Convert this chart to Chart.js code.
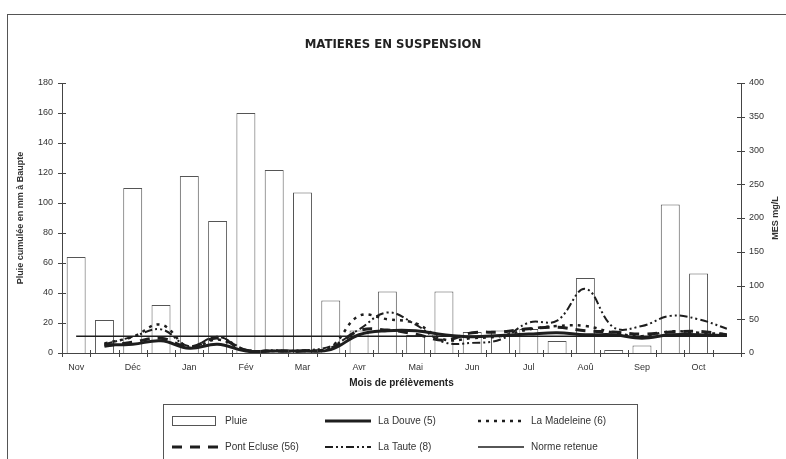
<!DOCTYPE html>
<html>
<head>
<meta charset="utf-8">
<script src="https://cdn.jsdelivr.net/npm/chart.js@4.4.1/dist/chart.umd.min.js"></script>
<style>
  html, body { margin: 0; padding: 0; background: #fff; }
  #wrap { position: relative; width: 786px; height: 459px; overflow: hidden; }
  #frame { position: absolute; left: 7px; top: 14px; width: 820px; height: 520px; border: 1px solid #555; }
  canvas { position: absolute; left: 0; top: 0; }
</style>
</head>
<body>
<div id="wrap">
  <div id="frame"></div>
  <canvas id="chart" width="786" height="459"></canvas>
</div>
<script>
// two samples per month, labels on the first one
const labels = ["Nov", "", "Déc", "", "Jan", "", "Fév", "", "Mar", "", "Avr", "",
                "Mai", "", "Jun", "", "Jul", "", "Aoû", "", "Sep", "", "Oct", ""];

// rain in mm (left axis)
const pluie = [64, 22, 110, 32, 118, 88, 160, 122, 107, 35, 15, 41,
               12, 41, 14, 15, 16, 8, 50, 2, 5, 99, 53, null];

// MES in mg/L (right axis)
const douve = [null, 12, 13, 18, 7, 13, 3, 3, 3, 5, 27, 33,
               33, 27, 24, 26, 28, 30, 27, 27, 22, 27, 27, 26];
const madeleine = [null, 14, 24, 42, 8, 20, 4, 3, 3, 9, 55, 50,
                   44, 20, 22, 25, 35, 40, 40, 30, 25, 32, 30, 28];
const pontEcluse = [null, 10, 16, 22, 9, 22, 4, 3, 3, 7, 33, 34,
                    28, 19, 30, 31, 36, 38, 33, 31, 28, 31, 32, 27];
const taute = [null, 13, 24, 35, 10, 24, 5, 4, 4, 10, 35, 60,
               42, 16, 15, 20, 45, 48, 95, 38, 40, 55, 50, 36];
const norme = [25, 25, 25, 25, 25, 25, 25, 25, 25, 25, 25, 25,
               25, 25, 25, 25, 25, 25, 25, 25, 25, 25, 25, 25];

const yTicks = [0, 20, 40, 60, 80, 100, 120, 140, 160, 180];
const y2Ticks = [0, 50, 100, 150, 200, 250, 300, 350, 400];

const FONT = "'Liberation Sans', Arial, sans-serif";
const NARROW = "'Liberation Sans Narrow', 'DejaVu Sans Condensed', Arial, sans-serif";
const INK = "#333";

function lineSet(label, data, width, dash) {
  return {
    type: "line", label: label, data: data, yAxisID: "y2",
    borderColor: "#1e1e1e", borderWidth: width, borderDash: dash,
    tension: 0.4, pointRadius: 0, fill: false, order: 1
  };
}

// small marks crossing each axis
const crossTicks = {
  id: "crossTicks",
  afterDatasetsDraw(chart) {
    const { ctx, scales: { x, y, y2 } } = chart;
    ctx.save();
    ctx.strokeStyle = "#444";
    ctx.lineWidth = 1;
    ctx.beginPath();
    y.ticks.forEach(t => {
      const py = Math.round(y.getPixelForValue(t.value)) + 0.5;
      ctx.moveTo(y.right - 4, py); ctx.lineTo(y.right + 4, py);
    });
    y2.ticks.forEach(t => {
      const py = Math.round(y2.getPixelForValue(t.value)) + 0.5;
      ctx.moveTo(y2.left - 4, py); ctx.lineTo(y2.left + 4, py);
    });
    const slot = (x.right - x.left) / labels.length;
    for (let i = 0; i <= labels.length; i++) {
      const px = Math.round(x.left + i * slot) + 0.5;
      ctx.moveTo(px, x.top - 3); ctx.lineTo(px, x.top + 4);
    }
    ctx.stroke();
    ctx.restore();
  }
};

// right axis title and the boxed legend
const extras = {
  id: "extras",
  afterDraw(chart) {
    const ctx = chart.ctx;
    ctx.save();
    ctx.fillStyle = INK;
    ctx.font = "bold 9px " + FONT;
    ctx.translate(776, 218);
    ctx.rotate(-Math.PI / 2);
    ctx.textAlign = "center";
    ctx.textBaseline = "middle";
    ctx.fillText("MES mg/L", 0, 0);
    ctx.restore();

    ctx.save();
    ctx.strokeStyle = "#555";
    ctx.lineWidth = 1;
    ctx.strokeRect(163.5, 404.5, 474, 80);

    const ds = chart.data.datasets;
    const byLabel = l => ds.find(d => d.label === l);
    const cols = [172, 325, 478];
    const rows = [421, 447];
    const items = [
      ["Pluie", 0, 0], ["La Douve (5)", 1, 0], ["La Madeleine (6)", 2, 0],
      ["Pont Ecluse (56)", 0, 1], ["La Taute (8)", 1, 1], ["Norme retenue", 2, 1]
    ];
    ctx.font = "10px " + FONT;
    ctx.textBaseline = "middle";
    items.forEach(([name, c, r]) => {
      const d = byLabel(name);
      const x0 = cols[c], yy = rows[r];
      ctx.strokeStyle = d.borderColor;
      if (d.type === "bar") {
        ctx.lineWidth = 1;
        ctx.setLineDash([]);
        ctx.strokeRect(x0 + 0.5, yy - 4.5, 43, 9);
      } else {
        ctx.lineWidth = d.borderWidth;
        ctx.setLineDash(d.borderDash || []);
        ctx.beginPath();
        ctx.moveTo(x0, yy); ctx.lineTo(x0 + 46, yy);
        ctx.stroke();
      }
      ctx.setLineDash([]);
      ctx.fillStyle = INK;
      ctx.fillText(name, x0 + 53, yy);
    });
    ctx.restore();
  }
};

new Chart(document.getElementById("chart"), {
  type: "bar",
  data: {
    labels: labels,
    datasets: [
      {
        type: "bar", label: "Pluie", data: pluie, yAxisID: "y",
        backgroundColor: "#fff", borderColor: "#555", borderWidth: 1,
        barPercentage: 0.67, categoryPercentage: 1, order: 2
      },
      lineSet("La Douve (5)", douve, 3, []),
      lineSet("La Madeleine (6)", madeleine, 2.5, [3, 5]),
      lineSet("Pont Ecluse (56)", pontEcluse, 3, [10, 8]),
      lineSet("La Taute (8)", taute, 2, [8, 3, 2, 3, 2, 3]),
      lineSet("Norme retenue", norme, 1.5, [])
    ]
  },
  options: {
    responsive: false,
    animation: false,
    layout: { padding: { top: 0, bottom: 70, left: 0, right: 0 } },
    plugins: {
      legend: { display: false },
      tooltip: { enabled: false },
      title: {
        display: true,
        text: "MATIERES EN SUSPENSION",
        color: "#222",
        font: { family: NARROW, size: 13, weight: "bold" },
        padding: { top: 37, bottom: 30.4 }
      }
    },
    scales: {
      x: {
        offset: true,
        grid: { display: false, drawTicks: false },
        border: { display: true, color: "#444", width: 1 },
        ticks: { autoSkip: false, maxRotation: 0, padding: 9, color: INK, font: { family: FONT, size: 9 } },
        title: {
          display: true, text: "Mois de prélèvements", color: "#222",
          font: { family: FONT, size: 10, weight: "bold" }, padding: { top: 0, bottom: 0 }
        },
        afterFit(s) { s.height = 36; }
      },
      y: {
        position: "left", min: 0, max: 180,
        afterBuildTicks(s) { s.ticks = yTicks.map(v => ({ value: v })); },
        grid: { display: false, drawTicks: false },
        border: { display: true, color: "#444", width: 1 },
        ticks: { padding: 9, color: INK, font: { family: FONT, size: 9 } },
        title: {
          display: true, text: "Pluie cumulée en mm à Baupte", color: INK,
          font: { family: FONT, size: 9, weight: "bold" }, padding: { top: 15, bottom: 0 }
        },
        afterFit(s) { s.width = 62; }
      },
      y2: {
        position: "right", min: 0, max: 400,
        afterBuildTicks(s) { s.ticks = y2Ticks.map(v => ({ value: v })); },
        grid: { display: false, drawTicks: false },
        border: { display: true, color: "#444", width: 1 },
        ticks: { padding: 8, color: INK, font: { family: FONT, size: 9 } },
        afterFit(s) { s.width = 45; }
      }
    }
  },
  plugins: [crossTicks, extras]
});
</script>
</body>
</html>
